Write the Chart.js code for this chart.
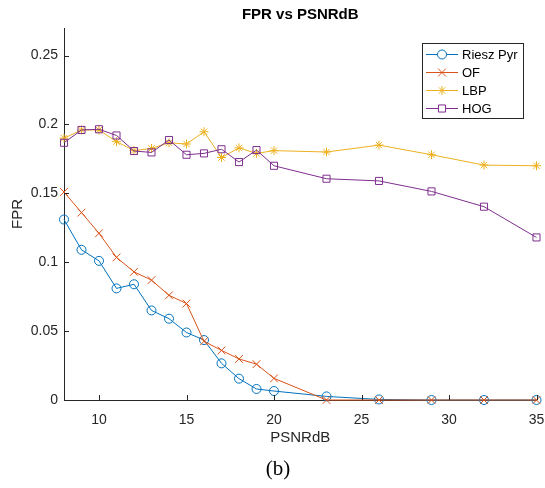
<!DOCTYPE html>
<html>
<head>
<meta charset="utf-8">
<title>FPR vs PSNRdB</title>
<script src="https://cdn.jsdelivr.net/npm/chart.js@4.4.1/dist/chart.umd.min.js"></script>
<style>
  html, body { margin: 0; padding: 0; background: #fff; }
  #fprChart { display: block; }
</style>
</head>
<body>
<canvas id="fprChart" width="545" height="488"></canvas>
<script>
// valores
const psnr = [8, 9, 10, 11, 12, 13, 14, 15, 16, 17, 18, 19, 20, 23, 26, 29, 32, 35];
const rieszPyr = [0.131, 0.109, 0.101, 0.081, 0.084, 0.065, 0.059, 0.049, 0.0435, 0.0266, 0.0155, 0.008, 0.0065, 0.0026, 0.0004, 0, 0, 0];
const opticalFlow = [0.151, 0.136, 0.121, 0.1035, 0.093, 0.087, 0.076, 0.070, 0.0426, 0.036, 0.0298, 0.026, 0.0157, 0, 0, 0, 0, 0];
const lbp = [0.190, 0.196, 0.196, 0.1875, 0.181, 0.1826, 0.1867, 0.1858, 0.1947, 0.176, 0.183, 0.179, 0.181, 0.180, 0.185, 0.178, 0.1705, 0.170];
const hog = [0.1867, 0.196, 0.1965, 0.192, 0.1807, 0.1797, 0.1887, 0.178, 0.179, 0.182, 0.1727, 0.1814, 0.170, 0.1606, 0.159, 0.1514, 0.1403, 0.118];

const xTicks = [10, 15, 20, 25, 30, 35];
const yTicks = [0, 0.05, 0.1, 0.15, 0.2, 0.25];

const axisColor = '#262626';
const sans = 'Liberation Sans, Arial, sans-serif';

function toPoints(values) {
    return values.map((v, i) => ({ x: psnr[i], y: v }));
}

function serie(label, values, color, style, radius, order) {
    return {
        label: label,
        data: toPoints(values),
        borderColor: color,
        backgroundColor: color,
        borderWidth: 1,
        pointStyle: style,
        pointRadius: radius,
        pointBorderWidth: 1,
        pointBorderColor: color,
        pointBackgroundColor: 'rgba(0,0,0,0)',
        tension: 0,
        clip: false,
        order: order
    };
}

// ticks para dentro, como no matlab
const inwardTicks = {
    id: 'inwardTicks',
    afterDatasetsDraw(chart) {
        const c = chart.ctx;
        const xs = chart.scales.x, ys = chart.scales.y;
        const area = chart.chartArea;
        c.save();
        c.strokeStyle = axisColor;
        c.lineWidth = 1;
        c.beginPath();
        xTicks.forEach(t => {
            const px = Math.round(xs.getPixelForValue(t)) + 0.5;
            c.moveTo(px, area.bottom);
            c.lineTo(px, area.bottom - 5);
        });
        yTicks.forEach(t => {
            const py = Math.round(ys.getPixelForValue(t)) + 0.5;
            c.moveTo(area.left, py);
            c.lineTo(area.left + 5, py);
        });
        c.stroke();
        c.restore();
    }
};

// titulo centrado sobre os eixos e legenda (b) embaixo
const titles = {
    id: 'titles',
    afterDraw(chart) {
        const c = chart.ctx;
        const area = chart.chartArea;
        c.save();
        c.fillStyle = '#000';
        c.textAlign = 'center';
        c.textBaseline = 'middle';
        c.font = 'bold 15px ' + sans;
        c.fillText('FPR vs PSNRdB', (area.left + area.right) / 2, 15);
        c.font = '21px Liberation Serif, Times New Roman, serif';
        c.fillText('(b)', 278, 469);
        c.restore();
    }
};

// legenda com caixa, desenhada a mao
const boxLegend = {
    id: 'boxLegend',
    afterDraw(chart) {
        const c = chart.ctx;
        const left = 422, top = 43, w = 101, h = 75;
        c.save();
        c.fillStyle = '#fff';
        c.fillRect(left, top, w, h);
        c.strokeStyle = axisColor;
        c.lineWidth = 1;
        c.strokeRect(left + 0.5, top + 0.5, w, h);
        c.font = '13px ' + sans;
        c.textBaseline = 'middle';
        chart.data.datasets.forEach((ds, i) => {
            const y = 54 + i * 18;
            c.strokeStyle = ds.borderColor;
            c.lineWidth = 1;
            c.beginPath();
            c.moveTo(426, y + 0.5);
            c.lineTo(458, y + 0.5);
            c.stroke();
            c.fillStyle = '#fff';
            Chart.helpers.drawPoint(c, {
                pointStyle: ds.pointStyle,
                radius: ds.pointRadius,
                borderWidth: 1,
                rotation: 0
            }, 442, y + 0.5);
            c.fillStyle = '#000';
            c.fillText(ds.label, 462, y + 1);
        });
        c.restore();
    }
};

const ctx = document.getElementById('fprChart').getContext('2d');

const fprChart = new Chart(ctx, {
    type: 'line',
    data: {
        datasets: [
            serie('Riesz Pyr', rieszPyr, '#0072BD', 'circle', 4.5, 3),
            serie('OF', opticalFlow, '#D95319', 'crossRot', 5.5, 2),
            serie('LBP', lbp, '#EDB120', 'star', 4.5, 1),
            serie('HOG', hog, '#7E2F8E', 'rect', 5, 0)
        ]
    },
    options: {
        responsive: false,
        animation: false,
        events: [],
        layout: { padding: { left: 0, right: 8.5, top: 28, bottom: 32.6 } },
        scales: {
            x: {
                type: 'linear',
                min: 8,
                max: 35,
                afterBuildTicks: s => { s.ticks = xTicks.map(v => ({ value: v })); },
                afterFit: s => {
                    s.height = 55.4;
                    s.paddingLeft = 0;
                    s.paddingRight = 0;
                },
                grid: { display: false, drawTicks: false },
                border: { display: true, color: axisColor, width: 1 },
                ticks: {
                    color: axisColor,
                    padding: 12,
                    maxRotation: 0,
                    font: { family: sans, size: 14 }
                },
                title: {
                    display: true,
                    text: 'PSNRdB',
                    color: axisColor,
                    font: { family: sans, size: 15 },
                    padding: { top: 0, bottom: 8.4 }
                }
            },
            y: {
                min: 0,
                max: 0.27,
                afterBuildTicks: s => { s.ticks = yTicks.map(v => ({ value: v })); },
                afterFit: s => {
                    s.width = 64;
                    s.paddingTop = 0;
                    s.paddingBottom = 0;
                },
                grid: { display: false, drawTicks: false },
                border: { display: true, color: axisColor, width: 1 },
                ticks: {
                    color: axisColor,
                    padding: 6,
                    font: { family: sans, size: 14 },
                    callback: v => String(+v.toFixed(2))
                },
                title: {
                    display: true,
                    text: 'FPR',
                    color: axisColor,
                    font: { family: sans, size: 15 },
                    padding: { top: 8.5, bottom: 0 }
                }
            }
        },
        plugins: {
            legend: { display: false },
            tooltip: { enabled: false },
            title: { display: false },
            subtitle: { display: false }
        }
    },
    plugins: [inwardTicks, titles, boxLegend]
});
</script>
</body>
</html>
